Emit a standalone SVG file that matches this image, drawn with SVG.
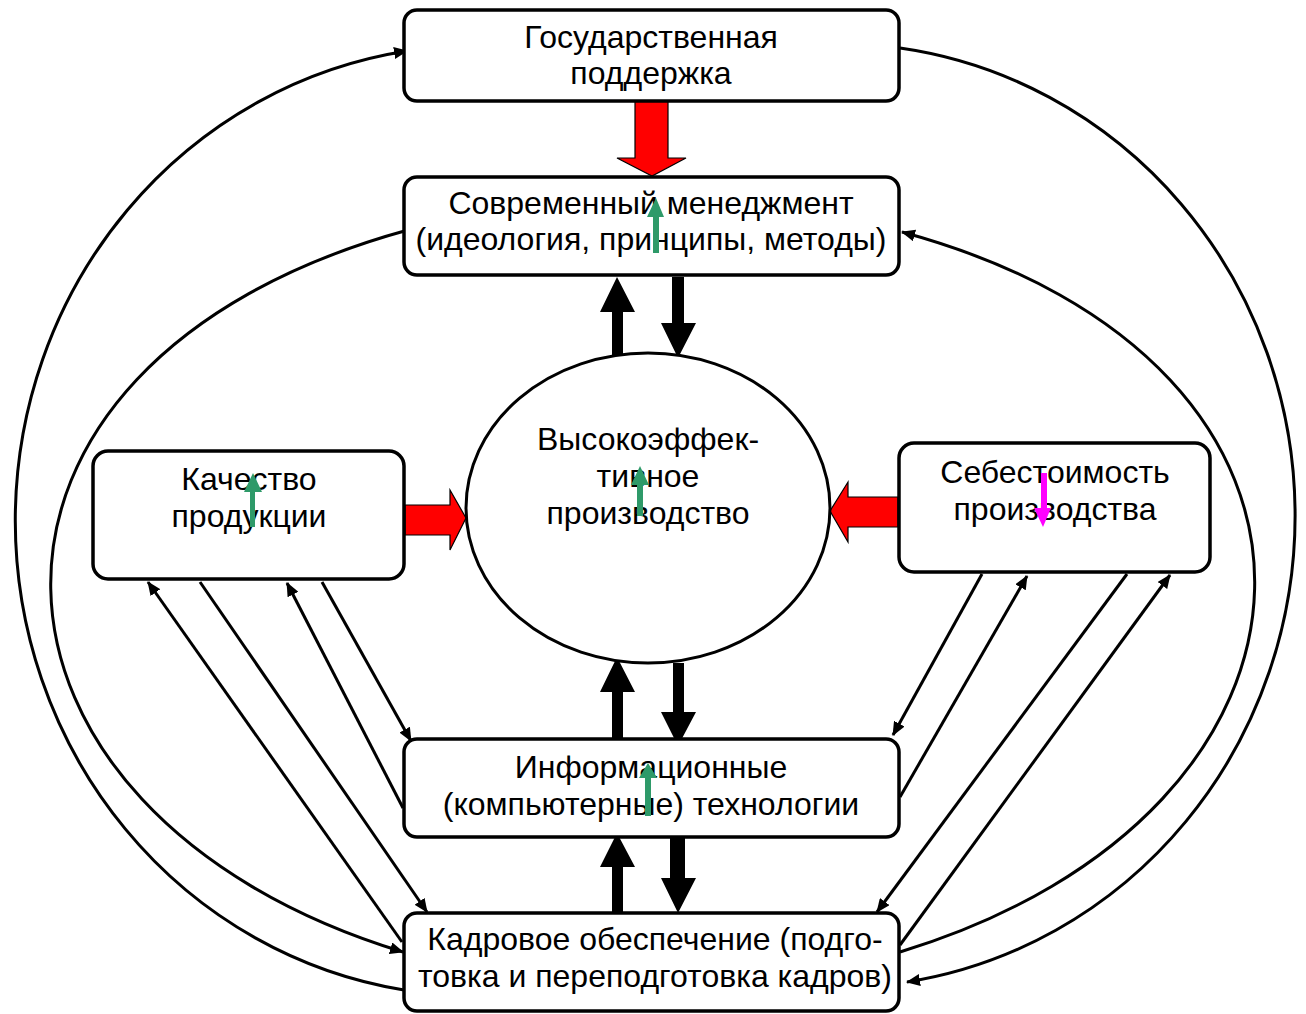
<svg xmlns="http://www.w3.org/2000/svg" width="1306" height="1014" viewBox="0 0 1306 1014">
<defs>
<style>
.box{fill:#fff;stroke:#000;stroke-width:3.5}
.t{font-family:"Liberation Sans",Arial,sans-serif;font-size:32px;fill:#000;text-anchor:middle}
.ln{fill:none;stroke:#000;stroke-width:3}
.red{fill:#ff0000;stroke:#000;stroke-width:1.2}
.blk{fill:#000}
.grn{fill:#2e9a69}
.mag{fill:#ff00ff}
</style>
<marker id="ah" viewBox="0 0 14 12" refX="13" refY="6" markerWidth="14" markerHeight="12" markerUnits="userSpaceOnUse" orient="auto">
<path d="M0,0 L14,6 L0,12 Z" fill="#000"/>
</marker>
</defs>
<g id="connectors">
<path class="ln" d="M404,990 A460 475 0 0 1 407,51" marker-end="url(#ah)"/>
<path class="ln" d="M408,230 C-80,363.5 -55,812.4 403,952" marker-end="url(#ah)"/>
<path class="ln" d="M900,48 A458 472 0 0 1 907,982" marker-end="url(#ah)"/>
<path class="ln" d="M900,952 C1360,812 1385,363 902,232" marker-end="url(#ah)"/>
<line class="ln" x1="402" y1="942" x2="148" y2="582" marker-end="url(#ah)"/>
<line class="ln" x1="200" y1="582" x2="427" y2="912" marker-end="url(#ah)"/>
<line class="ln" x1="403" y1="808" x2="287" y2="583" marker-end="url(#ah)"/>
<line class="ln" x1="322" y1="582" x2="411" y2="741" marker-end="url(#ah)"/>
<line class="ln" x1="982" y1="574" x2="893" y2="735" marker-end="url(#ah)"/>
<line class="ln" x1="900" y1="797" x2="1027" y2="576" marker-end="url(#ah)"/>
<line class="ln" x1="1127" y1="574" x2="877" y2="912" marker-end="url(#ah)"/>
<line class="ln" x1="900" y1="945" x2="1170" y2="575" marker-end="url(#ah)"/>
<polygon class="red" points="635,101 668,101 668,158 686,158 652,176 617,158 635,158"/>
<polygon class="red" points="405,505 450,505 450,490 466,518 450,550 450,535 405,535"/>
<polygon class="red" points="898,497 848,497 848,482 830,511 848,542 848,527 898,527"/>
<polygon class="blk" points="612,358 623,358 623,312 635,312 617,277 600,312 612,312"/>
<polygon class="blk" points="672,277 684,277 684,323 696,323 678,358 661,323 672,323"/>
<polygon class="blk" points="612,739 623,739 623,692 635,692 617,657 600,692 612,692"/>
<polygon class="blk" points="673,663 684,663 684,712 696,712 678,746 661,712 673,712"/>
<polygon class="blk" points="612,913 623,913 623,867 635,867 617,833 600,867 612,867"/>
<polygon class="blk" points="670,837 685,837 685,878 696,878 678,913 661,878 670,878"/>
</g>
<g id="n-gos">
<rect class="box" x="404" y="10" width="495" height="91" rx="13"/>
<text class="t" x="651" y="48">Государственная</text>
<text class="t" x="651" y="84">поддержка</text>
</g>
<g id="n-menedzhment">
<rect class="box" x="404" y="177" width="495" height="98" rx="13"/>
<text class="t" x="651" y="214">Современный менеджмент</text>
<text class="t" x="651" y="250">(идеология, принципы, методы)</text>
<polygon class="grn" points="653,253 659,253 659,217 664,217 656,198 647,217 653,217"/>
</g>
<g id="n-kachestvo">
<rect class="box" x="93" y="451" width="311" height="128" rx="15"/>
<text class="t" x="249" y="490">Качество</text>
<text class="t" x="249" y="527">продукции</text>
<polygon class="grn" points="250,527 255,527 255,492 262,492 253,473 244,492 250,492"/>
</g>
<g id="n-proizvodstvo">
<ellipse class="box" cx="648" cy="508" rx="182" ry="155" style="stroke-width:3"/>
<text class="t" x="648" y="450">Высокоэффек-</text>
<text class="t" x="648" y="487">тивное</text>
<text class="t" x="648" y="524">производство</text>
<polygon class="grn" points="637,516 643,516 643,485 649,485 640,466 631,485 637,485"/>
</g>
<g id="n-sebestoimost">
<rect class="box" x="899" y="443" width="311" height="129" rx="15"/>
<text class="t" x="1055" y="483">Себестоимость</text>
<text class="t" x="1055" y="520">производства</text>
<polygon class="mag" points="1041,473 1047,473 1047,508 1051,508 1043,527 1034,508 1041,508"/>
</g>
<g id="n-info">
<rect class="box" x="404" y="739" width="495" height="98" rx="13"/>
<text class="t" x="651" y="778">Информационные</text>
<text class="t" x="651" y="815">(компьютерные) технологии</text>
<polygon class="grn" points="645,816 651,816 651,778 657,778 648,763 639,778 645,778"/>
</g>
<g id="n-kadry">
<rect class="box" x="404" y="913" width="495" height="98" rx="13"/>
<text class="t" x="655" y="950">Кадровое обеспечение (подго-</text>
<text class="t" x="655" y="987">товка и переподготовка кадров)</text>
</g>
</svg>
